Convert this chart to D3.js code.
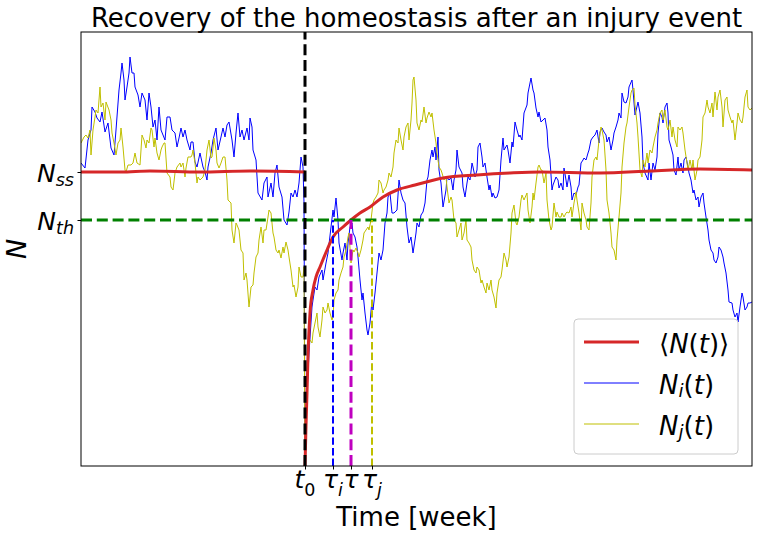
<!DOCTYPE html>
<html><head><meta charset="utf-8">
<script src="https://cdn.jsdelivr.net/npm/d3@7"></script>
<style>body{margin:0;background:#fff} svg{display:block} text{font-family:"DejaVu Sans",sans-serif;fill:#000}</style>
</head><body><svg id="c" width="758" height="538"></svg>
<script>
// ---------- data ----------
const titleText = "Recovery of the homeostasis after an injury event";
const xLabelText = "Time [week]";
const yLabelText = "N";
const N_SS = 294, N_TH = 246;           // steady state and threshold levels
const T0 = 224, TAU_I = 252, TAU = 270, TAU_J = 291; // injury time and recovery times
const T_MAX = 671, N_MAX = 434;

const meanBefore = [[0,294],[40,294],[69,295],[119,294],[169,295],[224,294]];
const meanAfter = [[224,0],[225,40],[226,73],[227,110],[229,153],[232,176],[235,189],[239,199],[246,216],[252,229],[262,239],[270,246],[279,253],[289,259],[302,269],[316,276],[334,281],[362,288],[396,291],[429,293],[459,294],[519,293],[569,295],[619,297],[671,296]];

const blueN = [[0,303],[4,298],[7,326],[10,336],[11,359],[14,354],[16,348],[19,344],[21,354],[24,334],[27,343],[30,318],[33,311],[35,336],[38,376],[40,393],[41,403],[43,386],[44,366],[46,379],[48,393],[49,409],[51,393],[53,393],[54,379],[57,371],[59,359],[61,373],[64,366],[66,346],[68,373],[70,359],[72,339],[74,346],[76,326],[78,359],[80,336],[84,326],[86,349],[89,349],[91,336],[94,333],[96,319],[98,328],[100,338],[102,329],[104,336],[106,326],[109,316],[110,324],[112,324],[114,304],[116,299],[119,313],[122,299],[124,294],[126,286],[127,299],[130,313],[132,326],[135,338],[137,316],[140,329],[142,338],[144,329],[146,341],[148,344],[151,326],[153,309],[155,333],[157,353],[159,329],[161,336],[163,326],[166,338],[168,326],[169,348],[171,339],[172,316],[175,306],[177,273],[181,266],[183,283],[186,289],[187,269],[190,283],[192,269],[194,293],[196,301],[198,279],[201,269],[203,246],[206,241],[208,254],[210,273],[212,269],[214,276],[216,269],[218,283],[220,309],[222,299],[223,263],[224,0],[226,73],[228,113],[231,159],[232,166],[234,179],[236,176],[238,189],[241,196],[242,186],[245,203],[247,213],[250,239],[252,256],[253,249],[255,268],[257,246],[258,223],[261,206],[262,213],[264,223],[266,206],[267,223],[269,239],[271,243],[272,233],[274,229],[276,219],[277,209],[279,186],[281,166],[282,173],[284,153],[286,136],[287,131],[289,143],[291,166],[292,156],[294,173],[296,193],[298,213],[300,206],[302,216],[304,243],[306,253],[307,269],[309,273],[311,253],[313,253],[316,256],[318,286],[320,273],[322,266],[324,263],[326,239],[328,223],[330,229],[332,213],[334,226],[335,233],[336,243],[338,239],[340,251],[342,254],[344,263],[346,286],[347,289],[349,306],[351,316],[352,309],[354,319],[355,306],[357,329],[358,296],[360,283],[362,259],[365,276],[366,289],[368,286],[370,288],[372,276],[373,286],[375,296],[376,316],[378,299],[381,293],[382,279],[384,269],[386,283],[387,289],[389,286],[391,303],[392,299],[394,289],[396,296],[397,319],[399,323],[401,309],[402,299],[404,303],[406,289],[408,276],[409,281],[411,269],[412,273],[414,268],[416,269],[418,276],[420,306],[422,328],[423,316],[426,321],[427,316],[429,303],[431,324],[432,319],[434,344],[436,336],[438,329],[439,331],[441,326],[443,353],[446,361],[447,373],[450,388],[452,376],[453,373],[455,358],[457,349],[458,354],[460,344],[462,346],[464,348],[466,336],[467,319],[469,306],[471,276],[472,281],[475,289],[477,286],[478,278],[480,283],[482,276],[483,298],[485,286],[486,279],[488,291],[490,279],[491,266],[493,273],[495,271],[497,279],[498,281],[500,303],[502,306],[503,308],[505,306],[507,313],[508,316],[510,326],[512,329],[514,331],[516,336],[518,323],[519,334],[521,338],[523,334],[525,331],[526,324],[528,329],[530,316],[532,326],[533,333],[535,339],[537,346],[538,353],[540,348],[541,373],[543,364],[545,363],[547,369],[548,379],[551,386],[552,376],[554,351],[557,364],[559,353],[561,329],[562,303],[564,293],[567,286],[568,303],[570,286],[572,303],[574,296],[576,309],[577,333],[579,353],[581,349],[582,343],[584,359],[586,363],[587,353],[588,326],[590,319],[592,311],[593,296],[595,291],[597,309],[598,296],[600,303],[602,293],[603,306],[605,309],[607,299],[608,293],[610,286],[612,273],[613,276],[615,266],[617,269],[618,259],[620,269],[622,273],[623,263],[625,249],[627,236],[628,226],[630,216],[632,213],[633,206],[635,203],[637,209],[638,219],[640,216],[642,209],[643,203],[645,193],[647,176],[648,164],[651,163],[652,156],[654,149],[656,153],[657,144],[659,159],[661,173],[662,169],[664,156],[666,159],[667,163],[669,163],[671,164]];

const yellowN = [[0,323],[3,329],[5,331],[7,328],[9,336],[10,311],[12,336],[14,349],[15,356],[17,353],[19,379],[20,359],[22,363],[24,346],[25,364],[28,356],[30,346],[31,333],[33,323],[35,311],[37,323],[39,326],[40,338],[42,319],[44,296],[45,294],[47,301],[50,301],[52,303],[54,313],[56,303],[59,301],[61,331],[63,326],[65,318],[66,326],[68,323],[70,338],[71,336],[73,319],[74,328],[76,313],[78,306],[80,316],[81,319],[83,323],[84,323],[86,293],[89,289],[90,279],[92,276],[94,293],[96,299],[99,303],[100,299],[102,303],[104,289],[105,298],[107,309],[110,309],[111,311],[112,316],[114,303],[116,283],[117,289],[119,286],[122,289],[124,296],[126,316],[128,326],[130,308],[131,309],[133,328],[135,316],[136,303],[138,298],[140,303],[142,309],[144,309],[146,286],[147,266],[150,263],[151,236],[153,223],[155,243],[156,241],[158,236],[160,216],[162,213],[163,186],[165,193],[166,186],[168,159],[170,179],[172,181],[173,193],[175,209],[177,213],[178,226],[180,239],[182,223],[183,236],[185,236],[187,249],[188,256],[190,253],[192,233],[193,229],[195,216],[197,213],[198,216],[200,208],[202,219],[203,213],[205,224],[207,216],[208,209],[210,196],[212,179],[213,181],[215,169],[217,179],[218,199],[220,189],[222,189],[223,199],[224,0],[226,66],[227,119],[229,126],[231,123],[232,133],[234,143],[236,153],[237,139],[239,129],[241,146],[242,159],[244,153],[246,156],[247,163],[249,153],[251,146],[252,149],[253,166],[255,173],[257,176],[258,186],[260,193],[262,199],[263,209],[265,216],[267,229],[268,233],[270,203],[272,216],[273,214],[275,218],[277,213],[278,209],[280,216],[282,226],[283,233],[285,236],[287,239],[288,236],[290,246],[292,263],[293,266],[295,269],[297,273],[298,286],[300,283],[302,273],[303,276],[305,279],[307,286],[308,293],[310,289],[312,299],[313,313],[315,326],[317,323],[318,338],[320,326],[322,316],[323,329],[325,339],[327,343],[328,326],[330,346],[331,363],[332,386],[333,389],[335,366],[336,343],[338,336],[340,346],[341,344],[343,359],[345,343],[346,348],[348,354],[350,349],[351,353],[353,336],[355,323],[356,313],[358,299],[360,296],[361,293],[363,286],[365,289],[366,279],[368,263],[370,269],[371,266],[373,246],[375,243],[376,229],[378,236],[380,243],[381,226],[383,233],[385,246],[386,226],[388,223],[390,219],[391,206],[393,196],[395,193],[396,199],[398,196],[400,183],[401,186],[403,179],[405,173],[406,183],[408,176],[410,186],[411,176],[413,169],[415,158],[416,173],[418,186],[420,189],[421,196],[423,213],[425,206],[426,199],[428,209],[430,233],[431,253],[433,261],[435,243],[436,241],[438,249],[440,266],[441,271],[443,266],[446,273],[447,256],[449,243],[451,259],[452,273],[453,266],[455,283],[457,299],[458,301],[460,296],[461,296],[463,283],[465,293],[466,266],[468,246],[470,236],[471,239],[473,263],[475,249],[476,254],[478,249],[480,249],[481,253],[483,249],[485,253],[486,254],[488,253],[490,259],[491,249],[493,263],[495,274],[496,266],[498,253],[500,236],[501,263],[503,253],[505,246],[506,239],[508,236],[510,263],[511,289],[513,306],[515,309],[516,306],[518,326],[520,339],[521,336],[523,326],[525,296],[526,266],[528,253],[530,233],[531,219],[533,216],[535,206],[536,226],[538,249],[540,273],[541,299],[543,323],[545,339],[546,343],[548,359],[550,373],[551,376],[553,378],[554,361],[556,343],[557,329],[559,296],[561,289],[562,306],[564,299],[566,313],[567,303],[569,316],[571,313],[572,319],[574,329],[576,336],[577,343],[579,353],[581,356],[582,346],[584,356],[586,339],[587,336],[589,346],[591,329],[592,339],[594,326],[596,319],[597,339],[599,336],[601,339],[602,333],[604,316],[606,303],[607,296],[609,306],[611,296],[612,306],[614,286],[616,296],[617,306],[619,309],[621,326],[622,349],[624,353],[626,366],[627,359],[629,353],[631,363],[632,349],[634,374],[636,356],[637,369],[639,376],[641,359],[642,339],[644,366],[646,369],[647,356],[649,349],[651,343],[652,346],[654,326],[656,343],[657,353],[659,346],[661,343],[662,349],[664,369],[666,376],[667,359],[669,356],[671,358]];

// tick labels: [text, style] parts; style i = italic, s = subscript
const yTickValues = [N_SS, N_TH];
const yTickLabels = [[["N","i"],["ss","si"]], [["N","i"],["th","si"]]];
const xTickValues = [T0, TAU_I, TAU, TAU_J];
const xTickLabels = [[["t","i"],["0","s"]], [["τ","i"],["i","si"]], [["τ","i"]], [["τ","i"],["j","si"]]];
const legendLabels = [
  [["⟨",""],["N","i"],["(",""],["t","i"],[")⟩",""]],
  [["N","i"],["i","si"],["(",""],["t","i"],[")",""]],
  [["N","i"],["j","si"],["(",""],["t","i"],[")",""]]
];

// ---------- chart ----------
const m = {left:81, top:32, right:752, bottom:466};
const svg = d3.select("#c");
const x = d3.scaleLinear().domain([0, T_MAX]).range([m.left, m.right]);
const y = d3.scaleLinear().domain([0, N_MAX]).range([m.bottom, m.top]);

const C = {red:"#d62728", blue:"#0000ff", yellow:"#bfbf00", green:"#008000", mag:"#bf00bf"};

svg.append("defs").append("clipPath").attr("id","clip").append("rect")
  .attr("x", m.left).attr("y", m.top).attr("width", m.right-m.left).attr("height", m.bottom-m.top);

const plot = svg.append("g").attr("clip-path","url(#clip)");
const line = d3.line().x(d=>x(d[0])).y(d=>y(d[1]));
const smooth = d3.line().x(d=>x(d[0])).y(d=>y(d[1])).curve(d3.curveMonotoneX);

plot.append("path").datum(blueN).attr("d", line).attr("fill","none").attr("stroke",C.blue).attr("stroke-width",1).attr("stroke-linejoin","round");
plot.append("path").datum(yellowN).attr("d", line).attr("fill","none").attr("stroke",C.yellow).attr("stroke-width",1).attr("stroke-linejoin","round");
[meanBefore, meanAfter].forEach(seg=>{
  plot.append("path").datum(seg).attr("d", smooth).attr("fill","none").attr("stroke",C.red).attr("stroke-width",3);
});

// threshold
plot.append("line").attr("x1",x(0)).attr("x2",x(T_MAX)).attr("y1",y(N_TH)).attr("y2",y(N_TH))
  .attr("stroke",C.green).attr("stroke-width",3).attr("stroke-dasharray","11,4.8");
// injury time
plot.append("line").attr("x1",x(T0)).attr("x2",x(T0)).attr("y1",y(0)).attr("y2",y(N_MAX))
  .attr("stroke","#000").attr("stroke-width",3).attr("stroke-dasharray","11,4.8");
// recovery times
[[TAU_I, C.blue, 2, "7.4,3.2"], [TAU, C.mag, 3, "11,4.8"], [TAU_J, C.yellow, 2, "7.4,3.2"]].forEach(([t,c,w,da])=>{
  plot.append("line").attr("x1",x(t)).attr("x2",x(t)).attr("y1",y(0)).attr("y2",y(N_TH))
    .attr("stroke",c).attr("stroke-width",w).attr("stroke-dasharray",da);
});

// frame
svg.append("rect").attr("x",m.left).attr("y",m.top).attr("width",m.right-m.left).attr("height",m.bottom-m.top)
  .attr("fill","none").attr("stroke","#000").attr("stroke-width",1);

// axes ticks
svg.append("g").attr("transform",`translate(${m.left},0)`)
  .call(d3.axisLeft(y).tickValues(yTickValues).tickSize(3.5).tickFormat(""))
  .call(g=>g.select(".domain").remove());
svg.append("g").attr("transform",`translate(0,${m.bottom})`)
  .call(d3.axisBottom(x).tickValues(xTickValues).tickSize(3.5).tickFormat(""))
  .call(g=>g.select(".domain").remove());

function rich(sel, parts, fs, shift){
  let down = false;
  parts.forEach(([txt, st])=>{
    const ts = sel.append("tspan").text(txt);
    if (st.includes("i")) ts.attr("font-style","italic");
    if (st.includes("s")) {
      ts.attr("font-size", fs*0.7);
      if (!down) { ts.attr("dy", fs*shift); down = true; }
    } else if (down) { ts.attr("dy", -fs*shift); down = false; }
  });
}

yTickValues.forEach((v,i)=>{
  const t = svg.append("text").attr("x", 74).attr("y", y(v)+10).attr("text-anchor","end").attr("font-size",25);
  rich(t, yTickLabels[i], 25, 0.14);
});
xTickValues.forEach((v,i)=>{
  const t = svg.append("text").attr("x", x(v)).attr("y", 488).attr("text-anchor","middle").attr("font-size",25);
  rich(t, xTickLabels[i], 25, 0.3);
});

// labels
svg.append("text").attr("x",(m.left+m.right)/2).attr("y",27).attr("text-anchor","middle").attr("font-size",26).text(titleText);
svg.append("text").attr("x",(m.left+m.right)/2).attr("y",526).attr("text-anchor","middle").attr("font-size",26).text(xLabelText);
svg.append("text").attr("transform",`translate(26,${(m.top+m.bottom)/2}) rotate(-90)`).attr("text-anchor","middle")
  .attr("font-size",27).attr("font-style","italic").text(yLabelText);

// legend
const lg = svg.append("g");
lg.append("rect").attr("x",574).attr("y",319).attr("width",164).attr("height",135).attr("rx",4)
  .attr("fill","#fff").attr("fill-opacity",0.8).attr("stroke","#cccccc").attr("stroke-width",1);
const legendStyles = [[C.red,3],[C.blue,1],[C.yellow,1]];
legendLabels.forEach((parts,i)=>{
  const yy = 342 + i*41;
  lg.append("line").attr("x1",584).attr("x2",639).attr("y1",yy).attr("y2",yy)
    .attr("stroke",legendStyles[i][0]).attr("stroke-width",legendStyles[i][1]);
  const t = lg.append("text").attr("x",659).attr("y",yy+11).attr("font-size",26);
  rich(t, parts, 26, 0.12);
});
</script></body></html>
